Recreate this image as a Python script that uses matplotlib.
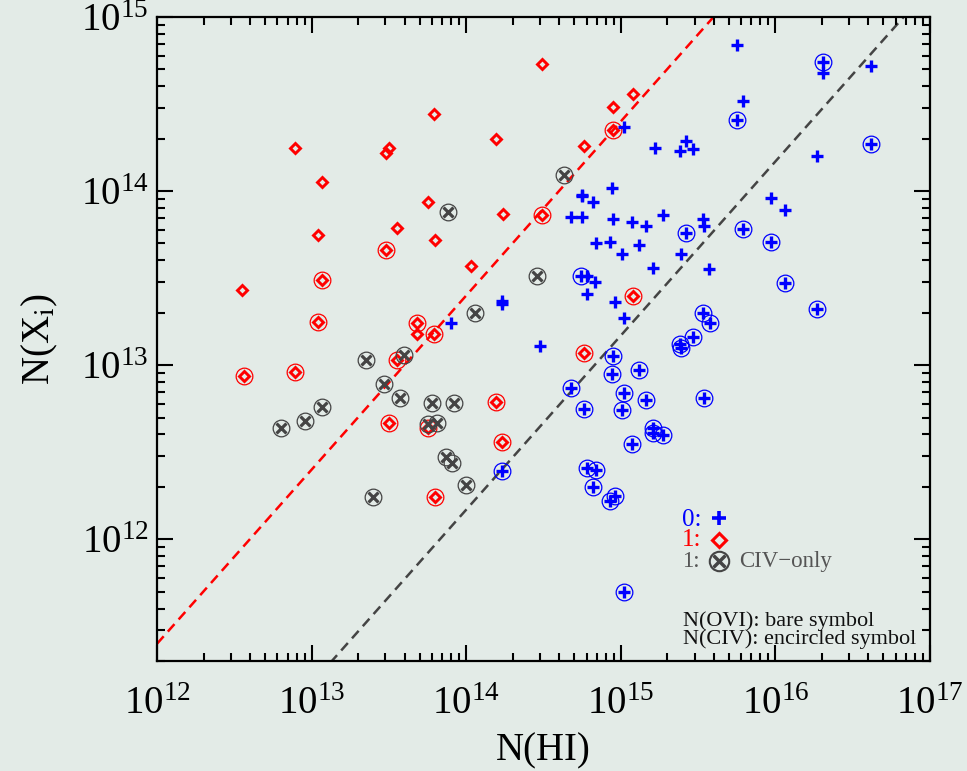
import numpy as np
import matplotlib
matplotlib.use("Agg")
import matplotlib.pyplot as plt

plt.rcParams['font.family'] = ['Liberation Serif', 'DejaVu Serif']
plt.rcParams['mathtext.fontset'] = 'stix'

# log10 N(HI), log10 N(X)
# blue "0", OVI bare symbol
blue_bare_x = [15.02, 15.22, 14.94, 14.75, 14.75, 14.82, 14.68, 14.75, 14.95, 15.07,
               15.16, 15.27, 14.84, 14.93, 15.12, 15.01, 15.21, 14.78, 14.83, 14.78,
               14.96, 15.02, 14.23, 14.23, 13.90, 14.48, 15.75, 16.31, 16.62, 15.79,
               15.42, 15.38, 15.47, 16.27, 15.97, 16.06, 15.53, 15.54, 15.39, 15.57]
blue_bare_y = [14.37, 14.25, 14.02, 13.98, 13.97, 13.94, 13.85, 13.85, 13.84, 13.82,
               13.80, 13.86, 13.70, 13.71, 13.69, 13.64, 13.56, 13.51, 13.48, 13.41,
               13.36, 13.27, 13.37, 13.35, 13.24, 13.11, 14.84, 14.68, 14.72, 14.52,
               14.29, 14.23, 14.24, 14.20, 13.96, 13.89, 13.84, 13.80, 13.64, 13.55]
# blue "0", CIV encircled symbol
blue_circ_x = [14.74, 16.31, 15.75, 16.62, 15.42, 15.79, 15.97, 16.06, 16.27, 15.53,
               15.58, 15.47, 15.38, 15.39, 14.95, 14.94, 15.12, 14.68, 15.02, 15.16,
               14.76, 15.01, 15.21, 15.21, 15.27, 15.07, 14.23, 14.78, 14.84, 14.82,
               14.96, 14.93, 15.02, 15.54]
blue_circ_y = [13.51, 14.74, 14.41, 14.27, 13.76, 13.78, 13.71, 13.47, 13.32, 13.30,
               13.24, 13.16, 13.12, 13.10, 13.05, 12.95, 12.97, 12.87, 12.84, 12.80,
               12.75, 12.74, 12.64, 12.61, 12.60, 12.55, 12.39, 12.41, 12.40, 12.30,
               12.25, 12.22, 11.70, 12.81]
# red "1", OVI bare symbol
red_bare_x = [12.89, 13.50, 13.48, 13.07, 13.04, 13.55, 12.55, 14.49, 13.79, 14.19,
              15.08, 14.95, 14.76, 13.75, 14.24, 13.80, 14.03, 13.68]
red_bare_y = [14.25, 14.25, 14.22, 14.05, 13.75, 13.79, 13.43, 14.73, 14.44, 14.30,
              14.56, 14.48, 14.26, 13.94, 13.87, 13.72, 13.57, 13.18]
# red "1", CIV encircled symbol
red_circ_x = [13.48, 13.07, 13.04, 13.68, 13.79, 14.95, 14.49, 15.08, 12.56, 12.89,
              13.55, 13.50, 14.76, 14.19, 14.23, 13.80, 13.75]
red_circ_y = [13.66, 13.49, 13.25, 13.24, 13.18, 14.35, 13.86, 13.40, 12.94, 12.96,
              13.03, 12.67, 13.07, 12.79, 12.56, 12.24, 12.64]
# grey "1", CIV only
grey_x = [14.63, 13.88, 14.46, 14.06, 13.35, 13.60, 13.47, 13.57, 13.07, 12.96,
          12.80, 13.40, 13.78, 13.92, 13.75, 13.81, 13.87, 13.91, 14.00]
grey_y = [14.09, 13.88, 13.51, 13.30, 13.03, 13.06, 12.89, 12.81, 12.76, 12.68,
          12.64, 12.24, 12.78, 12.78, 12.66, 12.67, 12.47, 12.44, 12.31]

# dashed reference lines N(X) = ratio * N(HI)
red_ratio = 10 ** -0.6
grey_ratio = 10 ** -1.83

bg = '#e3ebe7'
blue = '#0000ff'
red = '#ff0000'
grey = '#444444'

fig = plt.figure(figsize=(9.67, 7.71), dpi=100, facecolor=bg)
ax = fig.add_axes([0.1624, 0.1427, 0.7993, 0.8353], facecolor=bg)

xl = np.array([1e12, 1e17])
ax.plot(xl, red_ratio * xl, color=red, lw=1.8, dashes=(4, 2.5), zorder=1)
ax.plot(xl, grey_ratio * xl, color=grey, lw=1.8, dashes=(4, 2.5), zorder=1)

def p(v):
    return 10 ** np.array(v)

ax.plot(p(red_bare_x), p(red_bare_y), ls='none', marker='D', ms=5.6, mfc='none', mec=red, mew=2.1)
ax.plot(p(red_circ_x), p(red_circ_y), ls='none', marker='D', ms=5.6, mfc='none', mec=red, mew=2.1)
ax.plot(p(red_circ_x), p(red_circ_y), ls='none', marker='o', ms=12, mfc='none', mec=red, mew=0.9)

ax.plot(p(grey_x), p(grey_y), ls='none', marker='x', ms=7, mew=2.3, color=grey)
ax.plot(p(grey_x), p(grey_y), ls='none', marker='o', ms=12, mfc='none', mec=grey, mew=0.9)

ax.plot(p(blue_bare_x), p(blue_bare_y), ls='none', marker='+', ms=8, mew=2.4, color=blue)
ax.plot(p(blue_circ_x), p(blue_circ_y), ls='none', marker='+', ms=8, mew=2.4, color=blue)
ax.plot(p(blue_circ_x), p(blue_circ_y), ls='none', marker='o', ms=12, mfc='none', mec=blue, mew=0.9)

ax.set_xscale('log')
ax.set_yscale('log')
ax.set_xlim(1e12, 1e17)
ax.set_ylim(2e11, 1e15)
ax.set_xticks([1e12, 1e13, 1e14, 1e15, 1e16, 1e17])
ax.set_yticks([1e12, 1e13, 1e14, 1e15])

ax.tick_params(which='both', direction='in', top=True, right=True, width=1.5, labelsize=28)
ax.tick_params(which='major', length=11.5)
ax.tick_params(which='minor', length=6)
ax.tick_params(axis='x', pad=18)
ax.tick_params(axis='y', pad=6)
for s in ax.spines.values():
    s.set_linewidth(1.6)

ax.set_xlabel('N(HI)', fontsize=28, labelpad=7)
ax.set_ylabel(r'N(X$_{\rm i}$)', fontsize=28, labelpad=15)

# legend drawn by hand
t = ax.transAxes
ax.text(0.7038, 0.2096, '0:', color=blue, fontsize=18, ha='right', va='baseline', transform=t)
ax.plot([0.727], [0.222], marker='+', ms=10, mew=2.6, color=blue, transform=t, clip_on=False)
ax.text(0.7038, 0.1786, '1:', color=red, fontsize=18, ha='right', va='baseline', transform=t)
ax.plot([0.727], [0.1879], marker='D', ms=7, mfc='none', mec=red, mew=2.2, transform=t, clip_on=False)
ax.text(0.7025, 0.146, '1:', color='#555555', fontsize=16.5, ha='right', va='baseline', transform=t)
ax.plot([0.727], [0.1553], marker='o', ms=14, mfc='none', mec=grey, mew=1.5, transform=t, clip_on=False)
ax.plot([0.727], [0.1553], marker='x', ms=8, mew=2.5, color=grey, transform=t, clip_on=False)
ax.text(0.7529, 0.146, 'CIV\u2212only', color='#555555', fontsize=16.5, ha='left', va='baseline', transform=t)

ax.text(0.680, 0.0545, 'N(OVI): bare symbol', color='#111111', fontsize=16, ha='left', va='baseline', transform=t)
ax.text(0.680, 0.0264, 'N(CIV): encircled symbol', color='#111111', fontsize=16, ha='left', va='baseline', transform=t)

fig.savefig('out.png', dpi=100, facecolor=bg)
